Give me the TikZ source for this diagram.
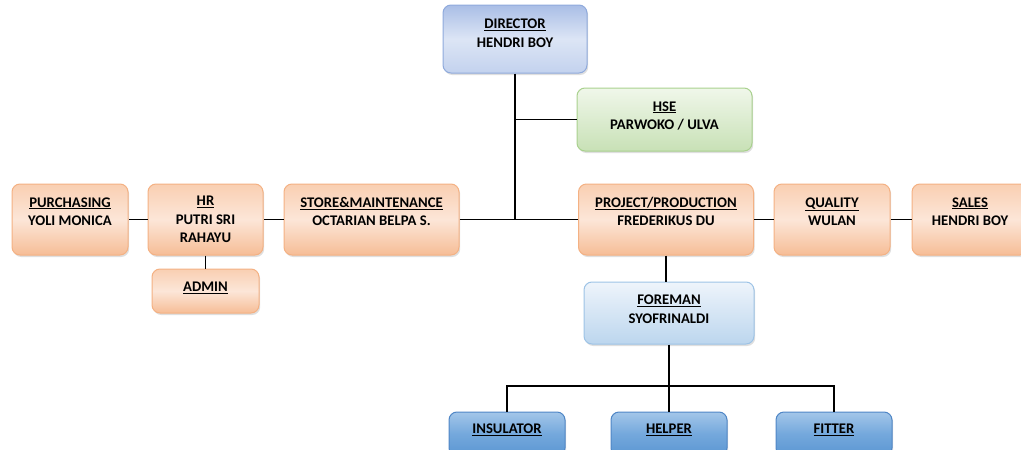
\documentclass[tikz,border=0pt]{standalone}
\usepackage{fontspec}
\setmainfont{Carlito}
\usetikzlibrary{shadows}

\definecolor{orangeline}{HTML}{F4B183}
\definecolor{orangetop}{HTML}{F9CFB2}
\definecolor{orangemid}{HTML}{FCE6D8}
\definecolor{orangebot}{HTML}{F6BD96}
\definecolor{bossline}{HTML}{8FAADC}
\definecolor{bosstop}{HTML}{A9BEE6}
\definecolor{bossmid}{HTML}{DCE5F5}
\definecolor{bossbot}{HTML}{C3D2EE}
\definecolor{hseline}{HTML}{A9D18E}
\definecolor{hsetop}{HTML}{F0F7EA}
\definecolor{hsebot}{HTML}{C8E1B6}
\definecolor{foreline}{HTML}{9DC3E6}
\definecolor{foretop}{HTML}{EEF4FB}
\definecolor{forebot}{HTML}{BCD6EE}
\definecolor{crewline}{HTML}{4F86C6}
\definecolor{crewtop}{HTML}{A3C6E9}
\definecolor{crewmid}{HTML}{74A8DC}
\definecolor{crewbot}{HTML}{5B96D2}

\begin{document}
\begin{tikzpicture}[x=1pt,y=-1pt,line width=1.6pt,
  font=\fontsize{14.7}{18.5}\selectfont\bfseries,
  unit/.style={rounded corners=8pt,align=center,line width=1pt,inner sep=2pt,
    drop shadow={shadow xshift=1.2pt,shadow yshift=-2pt,opacity=0.25}},
  staff/.style={unit,draw=orangeline,top color=orangetop,bottom color=orangebot,middle color=orangemid},
  boss/.style={unit,draw=bossline,top color=bosstop,bottom color=bossbot,middle color=bossmid},
  safety/.style={unit,draw=hseline,top color=hsetop,bottom color=hsebot},
  lead/.style={unit,draw=foreline,top color=foretop,bottom color=forebot},
  crew/.style={unit,draw=crewline,top color=crewtop,bottom color=crewbot,middle color=crewmid}]

\useasboundingbox (0,0) rectangle (1021,450);
\clip (0,0) rectangle (1021,450);

% top
\node[boss,minimum width=144pt,minimum height=68pt,text depth=12pt] (director) at (515,39)
  {\underline{DIRECTOR}\\HENDRI BOY};
\node[safety,minimum width=175pt,minimum height=63pt,text depth=8pt] (hse) at (664.5,119.5)
  {\underline{HSE}\\PARWOKO / ULVA};

% middle row
\node[staff,minimum width=116pt,minimum height=71pt,text depth=16pt] (purchasing) at (70,219.5)
  {\underline{PURCHASING}\\YOLI MONICA};
\node[staff,minimum width=115pt,minimum height=71pt] (hr) at (205.5,219.5)
  {\underline{HR}\\PUTRI SRI\\RAHAYU};
\node[staff,minimum width=107pt,minimum height=44pt,text depth=8pt] (admin) at (205.5,291)
  {\underline{ADMIN}};
\node[staff,minimum width=175pt,minimum height=71pt,text depth=16pt] (store) at (371.5,219.5)
  {\underline{STORE\&MAINTENANCE}\\OCTARIAN BELPA S.};
\node[staff,minimum width=175pt,minimum height=71pt,text depth=16pt] (project) at (666,219.5)
  {\underline{PROJECT/PRODUCTION}\\FREDERIKUS DU};
\node[staff,minimum width=116pt,minimum height=71pt,text depth=16pt] (quality) at (832,219.5)
  {\underline{QUALITY}\\WULAN};
\node[staff,minimum width=116pt,minimum height=71pt,text depth=16pt] (sales) at (970,219.5)
  {\underline{SALES}\\HENDRI BOY};

% production
\node[lead,minimum width=170pt,minimum height=62pt,text depth=8pt] (foreman) at (669,313)
  {\underline{FOREMAN}\\SYOFRINALDI};
\node[crew,minimum width=116pt,minimum height=44pt,text depth=10pt] (insulator) at (507,434)
  {\underline{INSULATOR}};
\node[crew,minimum width=116pt,minimum height=44pt,text depth=10pt] (helper) at (669,434)
  {\underline{HELPER}};
\node[crew,minimum width=116pt,minimum height=44pt,text depth=10pt] (fitter) at (834,434)
  {\underline{FITTER}};

\coordinate (split) at (669,386);

\draw (director.south) -- (director.south |- store.east);
\draw (store.east) -- (project.west);
\draw (hse.west) -- (hse.west -| director.south);
\draw (store.west) -- (hr.east);
\draw (hr.west) -- (purchasing.east);
\draw (hr.south) -- (admin.north);
\draw (project.east) -- (quality.west);
\draw (quality.east) -- (sales.west);
\draw (project.south) -- (project.south |- foreman.north);
\draw (foreman.south) -- (split);
\draw (insulator.north) |- (split) -| (fitter.north);
\draw (split) -- (helper.north);

\end{tikzpicture}
\end{document}
